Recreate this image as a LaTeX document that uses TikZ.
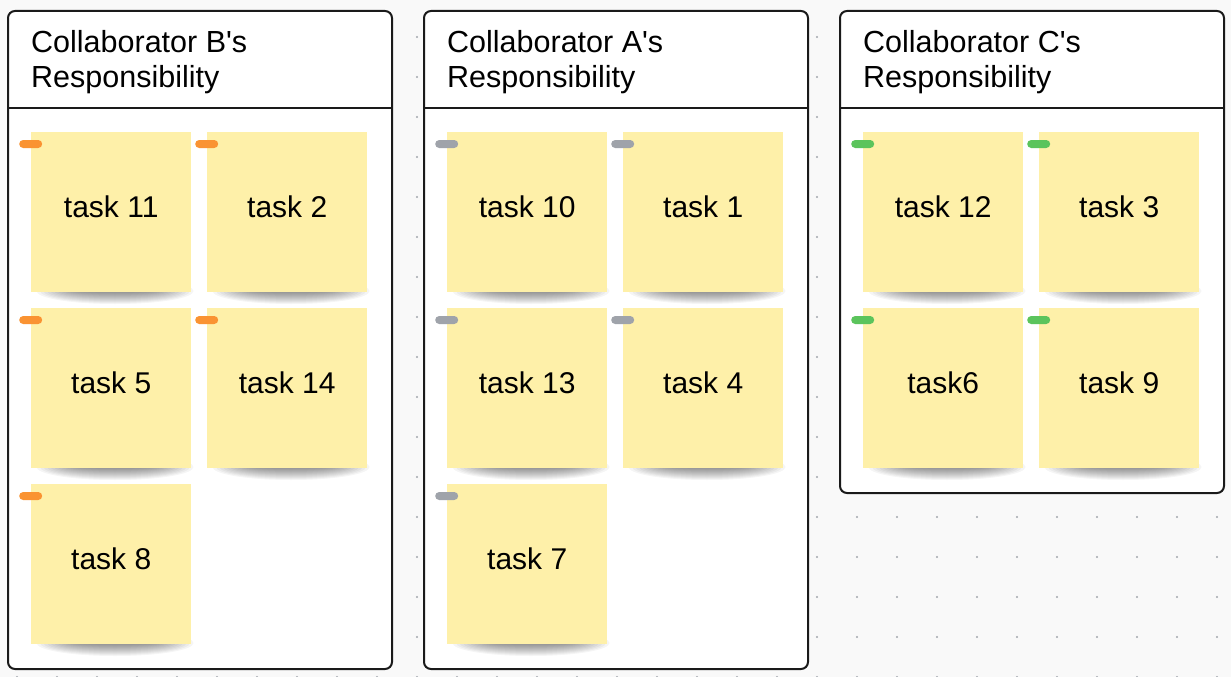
\documentclass[tikz,border=0pt]{standalone}
\usepackage{fontspec}
\setmainfont{Liberation Sans}
\definecolor{bgc}{HTML}{F9F9F9}
\definecolor{dotc}{HTML}{A2A6AD}
\definecolor{linec}{HTML}{1A1A1A}
\definecolor{notec}{HTML}{FEF0A9}
\definecolor{tagorange}{HTML}{FA9332}
\definecolor{taggray}{HTML}{9FA3AA}
\definecolor{taggreen}{HTML}{5BC45C}
\newcommand\noteshadow[2]{%
  \foreach \i in {1,...,12}{%
    \fill[black,fill opacity=0.04] (#1+84,#2+159) ellipse [x radius={82-3.5*\i}, y radius={14-\i}];}}
\begin{document}
\begin{tikzpicture}[x=1pt,y=-1pt,
  panel/.style={draw=linec, line width=2pt, fill=white, rounded corners=7pt,
    minimum width=384pt, anchor=north west, inner sep=0pt},
  headline/.style={draw=linec, line width=2pt},
  sticky/.style={fill=notec, minimum width=160pt, minimum height=160pt,
    anchor=north west, inner sep=0pt, font=\fontsize{30}{34}\selectfont,
    text height=20pt, text depth=10pt},
  tagbar/.style={rounded corners=4pt, minimum width=23pt, minimum height=8pt,
    inner sep=0pt, anchor=west},
  paneltitle/.style={anchor=base west, align=left, inner sep=0pt,
    font=\fontsize{30.5}{35}\selectfont},
]
\useasboundingbox (0,0) rectangle (1231,677);
\fill[bgc] (0,0) rectangle (1231,677);
% dotted grid
\foreach \i in {0,...,30}{
  \foreach \j in {0,...,16}{
    \fill[dotc] (17+40*\i,37+40*\j) circle [radius=1.1pt];
  }
}
% panels
\node[panel, minimum height=658pt] (pB) at (7,10) {};
\node[panel, minimum height=658pt] (pA) at (423,10) {};
\node[panel, minimum height=482pt] (pC) at (839,10) {};
\coordinate (hl) at (0,108);
\foreach \p in {pB,pA,pC}{
  \draw[headline] (\p.west |- hl) -- (\p.east |- hl);
}
% titles (anchor is the baseline of the last line)
\node[paneltitle] (tB) at (31,87) {Collaborator B\textquotesingle s\\Responsibility};
\node[paneltitle] (tA) at (447,87) {Collaborator A\textquotesingle s\\Responsibility};
\node[paneltitle] (tC) at (863,87) {Collaborator C\textquotesingle s\\Responsibility};
% shadows
\foreach \x/\y in {31/132,207/132,31/308,207/308,31/484,
                   447/132,623/132,447/308,623/308,447/484,
                   863/132,1039/132,863/308,1039/308}{
  \noteshadow{\x}{\y}
}
% sticky notes with tags
\foreach \x/\y/\t/\n/\c in {
   31/132/task 11/b11/tagorange, 207/132/task 2/b2/tagorange,
   31/308/task 5/b5/tagorange, 207/308/task 14/b14/tagorange,
   31/484/task 8/b8/tagorange,
   447/132/task 10/a10/taggray, 623/132/task 1/a1/taggray,
   447/308/task 13/a13/taggray, 623/308/task 4/a4/taggray,
   447/484/task 7/a7/taggray,
   863/132/task 12/c12/taggreen, 1039/132/task 3/c3/taggreen,
   863/308/task6/c6/taggreen, 1039/308/task 9/c9/taggreen}{
  \node[sticky] (\n) at (\x,\y) {\t};
  \node[tagbar, fill=\c] (tag\n) at (\x-12,\y+12) {};
}
\end{tikzpicture}
\end{document}
